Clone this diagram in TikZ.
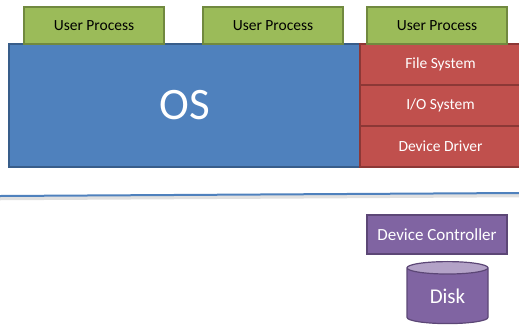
\documentclass[tikz,border=0pt]{standalone}
\usepackage{fontspec}
\setmainfont{Carlito}
\usetikzlibrary{shapes.geometric}

\definecolor{userfill}{HTML}{9BBB59}
\definecolor{userdraw}{HTML}{71893F}
\definecolor{osfill}{HTML}{4F81BD}
\definecolor{osdraw}{HTML}{385D8A}
\definecolor{layerfill}{HTML}{C0504D}
\definecolor{layerdraw}{HTML}{8C3836}
\definecolor{devfill}{HTML}{8064A2}
\definecolor{devdraw}{HTML}{5C4776}
\definecolor{disktop}{HTML}{B3A2C7}

\begin{document}
\begin{tikzpicture}[x=1pt,y=-1pt]
  \tikzstyle{box}=[draw,line width=1.2pt,inner sep=0pt,font=\fontsize{15.5}{17}\selectfont]
  \tikzstyle{user}=[box,fill=userfill,draw=userdraw,minimum width=140pt,minimum height=37pt]
  \tikzstyle{layer}=[box,fill=layerfill,draw=layerdraw,text=white,minimum width=161pt,minimum height=41pt]

  \useasboundingbox (0,0) rectangle (519,327);

  \draw (184.5,105.5) node[box,fill=osfill,draw=osdraw,text=white,minimum width=351pt,minimum height=123pt,font=\fontsize{45}{48}\selectfont] (os) {OS};

  \draw (440.5,64.5) node[layer] (fs) {File System};
  \draw (440.5,105.5) node[layer] (io) {I/O System};
  \draw (440.5,146.5) node[layer] (dd) {Device Driver};

  \draw (94,25.5) node[user] (up1) {User Process};
  \draw (273,25.5) node[user] (up2) {User Process};
  \draw (437,25.5) node[user] (up3) {User Process};

  \coordinate (busL) at (0,196);
  \coordinate (busR) at (519,193);
  \draw[black!12,line width=3.5pt] ([yshift=-2.5pt]busL) -- ([yshift=-2.5pt]busR);
  \draw[osfill,line width=2pt] (busL) -- (busR);

  \draw (437,234.5) node[box,fill=devfill,draw=devdraw,text=white,minimum width=140pt,minimum height=39pt,font=\fontsize{17}{19}\selectfont] (ctrl) {Device Controller};

  \draw (447.5,296) node[cylinder,shape border rotate=90,aspect=0.35,draw=devdraw,line width=1.2pt,
    cylinder uses custom fill,cylinder body fill=devfill,cylinder end fill=disktop,
    text=white,minimum width=81pt,minimum height=62pt,inner sep=0pt,font=\fontsize{21}{23}\selectfont] (disk) {Disk};

\end{tikzpicture}
\end{document}
